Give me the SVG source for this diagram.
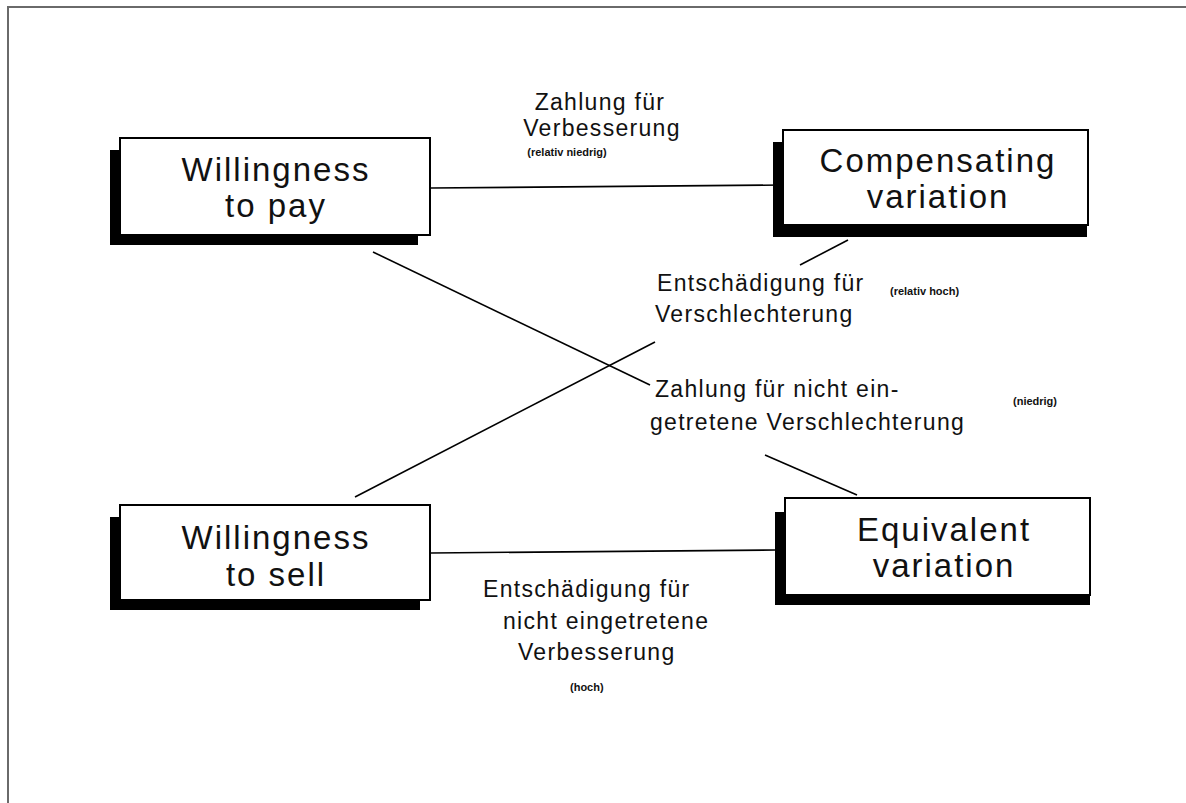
<svg xmlns="http://www.w3.org/2000/svg" width="1186" height="803" viewBox="0 0 1186 803">
<style>
.frame{stroke:#6a6a6a;stroke-width:2;fill:none}
.shadow{fill:#000}
.box{fill:#fff;stroke:#000;stroke-width:2}
.big{font-family:"Liberation Sans",Arial,sans-serif;font-size:33px;letter-spacing:2px;fill:#111;text-anchor:middle}
.lbl{font-family:"Liberation Sans",Arial,sans-serif;font-size:23px;letter-spacing:1.3px;fill:#111}
.sm{font-family:"Liberation Sans",Arial,sans-serif;font-size:11px;font-weight:bold;fill:#111}
.conn line{stroke:#000;stroke-width:1.6}
</style>
<rect width="1186" height="803" fill="#fff"/>
<path class="frame" d="M8,803 V7 H1186"/>
<g class="conn">
<line x1="431" y1="188" x2="783" y2="185"/>
<line x1="431" y1="553" x2="775" y2="550"/>
<line x1="373" y1="252" x2="650" y2="385"/>
<line x1="355" y1="497" x2="655" y2="342"/>
<line x1="848" y1="240" x2="800" y2="265"/>
<line x1="765" y1="455" x2="857" y2="495"/>
</g>
<g id="wtp">
<rect class="shadow" x="110" y="150" width="308" height="95"/>
<rect class="box" x="120" y="138" width="310" height="97"/>
<text class="big" x="276" y="181">Willingness</text>
<text class="big" x="276" y="217">to pay</text>
</g>
<g id="cv">
<rect class="shadow" x="773" y="142" width="314" height="95"/>
<rect class="box" x="783" y="130" width="305" height="95"/>
<text class="big" x="938" y="172">Compensating</text>
<text class="big" x="938" y="208">variation</text>
</g>
<g id="wts">
<rect class="shadow" x="110" y="517" width="310" height="93"/>
<rect class="box" x="120" y="505" width="310" height="95"/>
<text class="big" x="276" y="549">Willingness</text>
<text class="big" x="276" y="586">to sell</text>
</g>
<g id="ev">
<rect class="shadow" x="775" y="512" width="315" height="93"/>
<rect class="box" x="785" y="498" width="305" height="97"/>
<text class="big" x="944" y="541">Equivalent</text>
<text class="big" x="944" y="577">variation</text>
</g>
<g id="labels">
<text class="lbl" x="600" y="110" text-anchor="middle">Zahlung für</text>
<text class="lbl" x="602" y="136" text-anchor="middle">Verbesserung</text>
<text class="sm" x="567" y="156" text-anchor="middle">(relativ niedrig)</text>
<text class="lbl" x="657" y="291">Entschädigung für</text>
<text class="lbl" x="655" y="322">Verschlechterung</text>
<text class="sm" x="890" y="295">(relativ hoch)</text>
<text class="lbl" x="655" y="397">Zahlung für nicht ein-</text>
<text class="lbl" x="650" y="430">getretene Verschlechterung</text>
<text class="sm" x="1013" y="405">(niedrig)</text>
<text class="lbl" x="483" y="597">Entschädigung für</text>
<text class="lbl" x="503" y="629">nicht eingetretene</text>
<text class="lbl" x="518" y="660">Verbesserung</text>
<text class="sm" x="570" y="691">(hoch)</text>
</g>
</svg>
